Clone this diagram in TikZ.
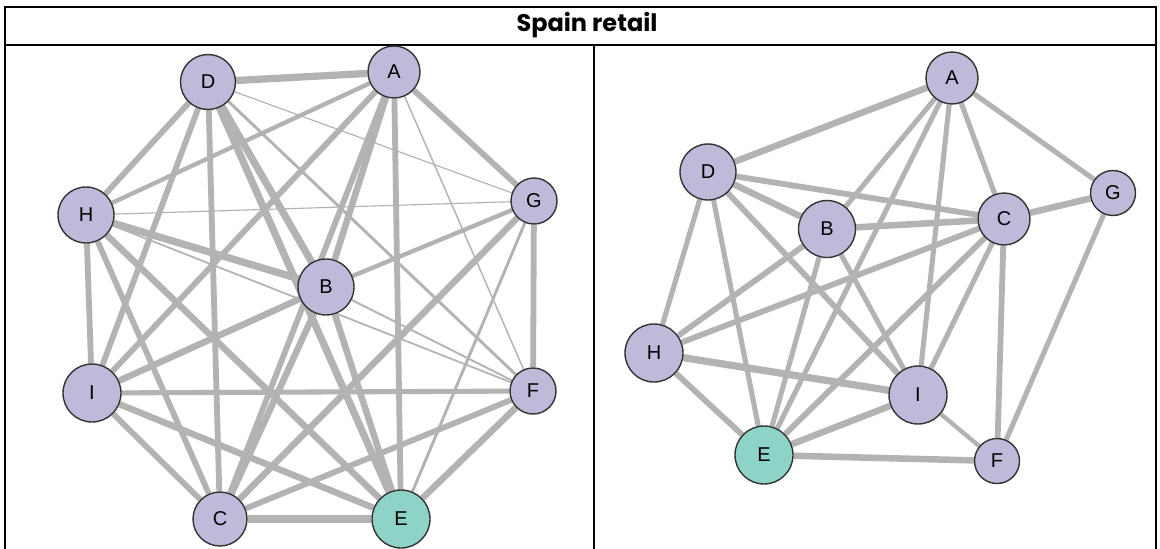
\documentclass[tikz,border=0pt]{standalone}
\usepackage{fontspec}
\setmainfont{Liberation Sans}
\newfontfamily\titlefont{Poppins}
\pgfdeclarelayer{edges}
\pgfsetlayers{edges,main}
\definecolor{edgegray}{HTML}{B3B3B3}
\definecolor{nodepurple}{HTML}{BEBADA}
\definecolor{nodeteal}{HTML}{8DD3C7}
\definecolor{nodeborder}{HTML}{333333}
\tikzset{
  vtx/.style={circle, draw=nodeborder, line width=1.4pt, fill=nodepurple,
    inner sep=0pt, minimum size=#1, font=\fontsize{20}{20}\selectfont},
  vtxE/.style={vtx=#1, fill=nodeteal},
  lnk/.code={\pgfmathsetlengthmacro\lnkw{1.45*#1}%
    \tikzset{draw=edgegray, line width=\lnkw}},
  rule/.style={draw=black, line width=1.6pt}
}
\begin{document}
\begin{tikzpicture}[x=1pt,y=-1pt]
\useasboundingbox (0,0) rectangle (1160,549);

% table frame
\coordinate (tl) at (5,7);
\coordinate (tr) at (1156,7);
\coordinate (ml) at (5,45);
\coordinate (mr) at (1156,45);
\coordinate (bl) at (5,549);
\coordinate (br) at (1156,549);
\coordinate (dt) at (594,45);
\coordinate (db) at (594,549);
\draw[rule] (bl) -- (tl) -- (tr) -- (br);
\draw[rule] (ml) -- (mr);
\draw[rule] (dt) -- (db);
\node[font=\titlefont\bfseries\fontsize{24}{24}\selectfont] (title) at (587,25) {Spain retail};

% left network
\node[vtx=55pt] (lD) at (208,82) {D};
\node[vtx=52pt] (lA) at (394,72) {A};
\node[vtx=46pt] (lG) at (534,201) {G};
\node[vtx=56pt] (lH) at (86,215) {H};
\node[vtx=56pt] (lB) at (326,287) {B};
\node[vtx=58pt] (lI) at (92,393) {I};
\node[vtx=46pt] (lF) at (533,391) {F};
\node[vtx=54pt] (lC) at (220,519) {C};
\node[vtxE=58pt] (lE) at (401,519) {E};

% right network
\node[vtx=52pt] (rA) at (952,78) {A};
\node[vtx=56pt] (rD) at (708,172) {D};
\node[vtx=57pt] (rB) at (827,229) {B};
\node[vtx=52pt] (rC) at (1004,219) {C};
\node[vtx=45pt] (rG) at (1113,193) {G};
\node[vtx=58pt] (rH) at (654,353) {H};
\node[vtxE=58pt] (rE) at (764,455) {E};
\node[vtx=58pt] (rI) at (918,395) {I};
\node[vtx=45pt] (rF) at (997,461) {F};

\begin{pgfonlayer}{edges}
  \fill[white] (0,0) rectangle (1160,549);
  % left network links
  \draw[lnk=4.5pt] (lA) -- (lB);
  \draw[lnk=4pt]   (lA) -- (lC);
  \draw[lnk=5pt]   (lA) -- (lD);
  \draw[lnk=4pt]   (lA) -- (lE);
  \draw[lnk=1pt]   (lA) -- (lF);
  \draw[lnk=4pt]   (lA) -- (lG);
  \draw[lnk=3pt]   (lA) -- (lH);
  \draw[lnk=4pt]   (lA) -- (lI);
  \draw[lnk=4.5pt] (lB) -- (lC);
  \draw[lnk=5pt]   (lB) -- (lD);
  \draw[lnk=4.5pt] (lB) -- (lE);
  \draw[lnk=1.3pt] (lB) -- (lF);
  \draw[lnk=3pt]   (lB) -- (lG);
  \draw[lnk=5pt]   (lB) -- (lH);
  \draw[lnk=4.5pt] (lB) -- (lI);
  \draw[lnk=4pt]   (lC) -- (lD);
  \draw[lnk=5pt]   (lC) -- (lE);
  \draw[lnk=4pt]   (lC) -- (lF);
  \draw[lnk=4.5pt] (lC) -- (lG);
  \draw[lnk=4pt]   (lC) -- (lH);
  \draw[lnk=4pt]   (lC) -- (lI);
  \draw[lnk=5pt]   (lD) -- (lE);
  \draw[lnk=2pt]   (lD) -- (lF);
  \draw[lnk=0.8pt] (lD) -- (lG);
  \draw[lnk=4pt]   (lD) -- (lH);
  \draw[lnk=4pt]   (lD) -- (lI);
  \draw[lnk=4.5pt] (lE) -- (lF);
  \draw[lnk=2pt]   (lE) -- (lG);
  \draw[lnk=4.5pt] (lE) -- (lH);
  \draw[lnk=4.5pt] (lE) -- (lI);
  \draw[lnk=4pt]   (lF) -- (lG);
  \draw[lnk=1.2pt] (lF) -- (lH);
  \draw[lnk=3.5pt] (lF) -- (lI);
  \draw[lnk=0.8pt] (lG) -- (lH);
  \draw[lnk=4pt]   (lH) -- (lI);

  % right network links
  \draw[lnk=4.5pt] (rA) -- (rD);
  \draw[lnk=3.5pt] (rA) -- (rB);
  \draw[lnk=3.5pt] (rA) -- (rE);
  \draw[lnk=3.5pt] (rA) -- (rI);
  \draw[lnk=3.5pt] (rA) -- (rC);
  \draw[lnk=3.5pt] (rA) -- (rG);
  \draw[lnk=4pt]   (rD) -- (rC);
  \draw[lnk=4.5pt] (rD) -- (rB);
  \draw[lnk=4pt]   (rD) -- (rI);
  \draw[lnk=3.5pt] (rD) -- (rH);
  \draw[lnk=3.5pt] (rD) -- (rE);
  \draw[lnk=4.5pt] (rB) -- (rC);
  \draw[lnk=4pt]   (rB) -- (rH);
  \draw[lnk=3.5pt] (rB) -- (rE);
  \draw[lnk=3.5pt] (rB) -- (rI);
  \draw[lnk=4.5pt] (rC) -- (rG);
  \draw[lnk=4pt]   (rC) -- (rH);
  \draw[lnk=4pt]   (rC) -- (rE);
  \draw[lnk=3.5pt] (rC) -- (rI);
  \draw[lnk=4pt]   (rC) -- (rF);
  \draw[lnk=3.5pt] (rG) -- (rF);
  \draw[lnk=5pt]   (rH) -- (rI);
  \draw[lnk=4pt]   (rH) -- (rE);
  \draw[lnk=4.5pt] (rE) -- (rI);
  \draw[lnk=4.5pt] (rE) -- (rF);
  \draw[lnk=3pt]   (rI) -- (rF);
\end{pgfonlayer}
\end{tikzpicture}
\end{document}
